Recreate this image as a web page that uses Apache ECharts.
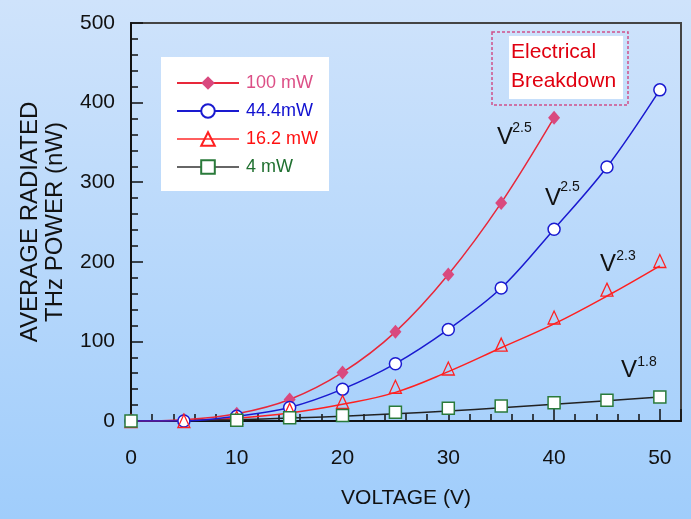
<!DOCTYPE html>
<html><head><meta charset="utf-8">
<script src="https://cdn.jsdelivr.net/npm/echarts@6/dist/echarts.min.js"></script>
<style>html,body{margin:0;padding:0;}#c{width:691px;height:519px;background:linear-gradient(#cfe3fb,#a0cdfb);}</style>
</head><body><div id="c"></div><script>
const voltage = [0, 5, 10, 15, 20, 25, 30, 35, 40, 45, 50];
const p100 = [0, 1.5, 9, 27, 61, 112, 184, 274, 381, null, null];
const p44 = [0, 0, 6, 17, 40, 72, 115, 167, 241, 319, 416];
const p16 = [0, 0, 4, 14, 24, 43, 66, 96, 130, 165, 201];
const fit16 = [0, 0.5, 3.5, 10, 21, 36, 62, 92, 122, 157, 195];
const p4 = [0, null, 1, 4, 7, 11, 16, 19, 23, 26, 30];
const fit4 = [0, 0.5, 1.7, 3.7, 6, 9, 12.5, 16.5, 21, 25.5, 30];
const xTickLabels = [0, 10, 20, 30, 40, 50];
const yTickLabels = [0, 100, 200, 300, 400, 500];
const seriesNames = ['100 mW', '44.4mW', '16.2 mW', '4 mW'];
const fitExponents = ['2.5', '2.5', '2.3', '1.8'];

const F = '"Liberation Sans", Arial, sans-serif';
function pairs(arr) { return voltage.map((v, i) => [v, arr[i]]).filter(p => p[1] !== null); }

const chart = echarts.init(document.getElementById('c'), null, {renderer: 'canvas'});
const tickStyle = {color: '#111', width: 1.5};
const option = {
  backgroundColor: 'transparent',
  animation: false,
  grid: {left: 131, right: 10, top: 23, bottom: 98, show: true, borderColor: '#444', borderWidth: 2, backgroundColor: 'transparent'},
  xAxis: [{
    type: 'value', min: 0, max: 52, interval: 2,
    axisLine: {lineStyle: {color: '#111', width: 2}},
    axisTick: {inside: true, length: 7, lineStyle: tickStyle},
    splitLine: {show: false},
    axisLabel: {margin: 27, fontFamily: F, fontSize: 21, color: '#111',
      formatter: v => xTickLabels.indexOf(v) >= 0 ? String(v) : ''},
    name: 'VOLTAGE (V)', nameLocation: 'middle', nameGap: 67,
    nameTextStyle: {fontFamily: F, fontSize: 21, color: '#111'}
  }, {
    type: 'value', min: 0, max: 52, interval: 10, position: 'bottom',
    axisLine: {show: false},
    axisTick: {inside: true, length: 12, lineStyle: tickStyle},
    axisLabel: {show: false}, splitLine: {show: false}
  }],
  yAxis: {
    type: 'value', min: 0, max: 500, interval: 100,
    axisLine: {show: true, lineStyle: {color: '#111', width: 2}},
    axisTick: {show: true, inside: true, length: 12, lineStyle: tickStyle},
    minorTick: {show: true, splitNumber: 5, length: 7, lineStyle: tickStyle},
    splitLine: {show: false},
    axisLabel: {margin: 16, fontFamily: F, fontSize: 21, color: '#111',
      formatter: v => yTickLabels.indexOf(v) >= 0 ? String(v) : ''},
    name: 'AVERAGE RADIATED\nTHz POWER (nW)', nameLocation: 'middle', nameGap: 63, nameRotate: 90,
    nameTextStyle: {fontFamily: F, fontSize: 24, lineHeight: 25, color: '#111'}
  },
  legend: {
    orient: 'vertical', left: 161, top: 57, padding: [17, 11, 15, 15], backgroundColor: '#fff',
    itemWidth: 62, itemHeight: 17, itemGap: 10, selectedMode: false,
    textStyle: {fontFamily: F, fontSize: 18, lineHeight: 18, padding: [0, 0, 0, 2]},
    data: [
      {name: seriesNames[0], textStyle: {color: '#dc4f86'}},
      {name: seriesNames[1], textStyle: {color: '#1010d0'}},
      {name: seriesNames[2], textStyle: {color: '#ff1010'}, lineStyle: {color: '#ff2a2a', width: 1.5, opacity: 1}},
      {name: seriesNames[3], textStyle: {color: '#207030'}, lineStyle: {color: '#333', width: 1.5, opacity: 1}}
    ]
  },
  series: [
    {name: 'fit16', type: 'line', smooth: 0.4, showSymbol: false, data: pairs(fit16),
      lineStyle: {color: '#ff2020', width: 1.5}, z: 1},
    {name: 'fit4', type: 'line', smooth: 0.4, showSymbol: false, data: pairs(fit4),
      lineStyle: {color: '#222', width: 1.5}, z: 1},
    {name: seriesNames[0], type: 'line', smooth: 0.35, data: pairs(p100), symbol: 'diamond', symbolSize: [12, 14],
      lineStyle: {color: '#e8283a', width: 1.5}, itemStyle: {color: '#d9497e', borderWidth: 0}, z: 2},
    {name: seriesNames[1], type: 'line', smooth: 0.35, data: pairs(p44), symbol: 'circle', symbolSize: 12,
      lineStyle: {color: '#1a1ad0', width: 1.5}, itemStyle: {color: '#fff', borderColor: '#1a1ad0', borderWidth: 1.5}, z: 3},
    {name: seriesNames[2], type: 'line', data: pairs(p16), symbol: 'triangle', symbolSize: [12, 13],
      lineStyle: {color: '#ff2020', width: 1.5, opacity: 0}, itemStyle: {color: 'rgba(0,0,0,0)', borderColor: '#ff2020', borderWidth: 1.3}, z: 4},
    {name: seriesNames[3], type: 'line', data: pairs(p4), symbol: 'rect', symbolSize: 12,
      lineStyle: {color: '#333', width: 1.5, opacity: 0}, itemStyle: {color: '#fff', borderColor: '#2a7a3a', borderWidth: 1.5}, z: 5}
  ],
  graphic: [
    {type: 'rect', shape: {x: 492, y: 32, width: 136, height: 73}, style: {fill: 'none', stroke: '#d0508a', lineWidth: 1.5, lineDash: [3, 2]}},
    {type: 'rect', shape: {x: 509, y: 36, width: 114, height: 63}, style: {fill: '#fff'}},
    {type: 'text', x: 511, y: 52, style: {text: 'Electrical', font: '21px ' + F, fill: '#e00010', verticalAlign: 'middle'}},
    {type: 'text', x: 511, y: 81, style: {text: 'Breakdown', font: '21px ' + F, fill: '#e00010', verticalAlign: 'middle'}}
  ]
};
const annPos = [[505, 137, 522, 128], [553, 198, 570, 187], [608, 264, 626, 256], [629, 370, 647, 362]];
annPos.forEach((p, i) => {
  option.graphic.push({type: 'text', x: p[0], y: p[1], style: {text: 'V', font: '24px ' + F, fill: '#111', align: 'center', verticalAlign: 'middle'}});
  option.graphic.push({type: 'text', x: p[2], y: p[3], style: {text: fitExponents[i], font: '14px ' + F, fill: '#111', align: 'center', verticalAlign: 'middle'}});
});
chart.setOption(option);
</script></body></html>
